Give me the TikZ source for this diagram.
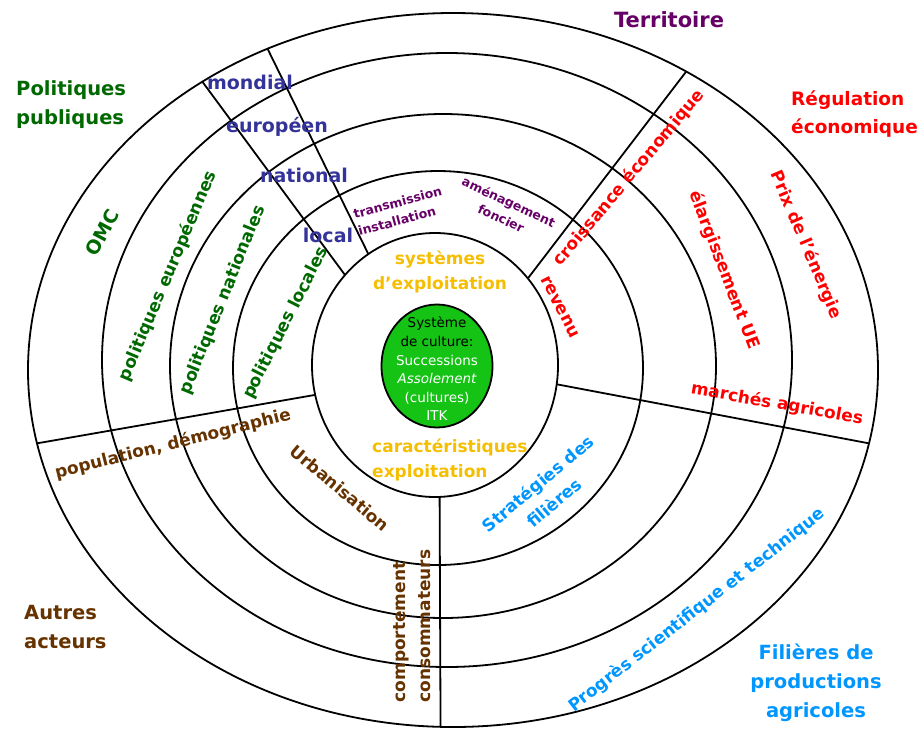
\documentclass[tikz,border=0pt]{standalone}
\usepackage{fontspec}
\setmainfont{DejaVu Sans}
\usepackage{tikz}
\usetikzlibrary{shapes.geometric}

\definecolor{terrpurple}{RGB}{102,0,102}
\definecolor{polgreen}{RGB}{0,104,0}
\definecolor{lvlblue}{RGB}{51,51,153}
\definecolor{ecored}{RGB}{255,0,0}
\definecolor{actbrown}{RGB}{102,51,0}
\definecolor{filblue}{RGB}{0,150,255}
\definecolor{expgold}{RGB}{245,190,0}
\definecolor{culgreen}{RGB}{20,195,20}

\begin{document}
\begin{tikzpicture}[x=1pt,y=-1pt,line width=1.8pt,
                    headlabel/.style={font=\bfseries\fontsize{19.5}{29}\selectfont},
                    levellabel/.style={font=\bfseries\fontsize{19}{23}\selectfont,text=lvlblue},
                    ringlabel/.style={font=\bfseries\fontsize{17}{25}\selectfont},
                    smalllabel/.style={font=\bfseries\fontsize{12.5}{18}\selectfont,text=terrpurple}]
  \tikzstyle{ring}=[ellipse,draw=black,inner sep=0pt,outer sep=0pt]
  \useasboundingbox (0,0) rectangle (920,729);

  \node[ring,minimum width=850pt,minimum height=714pt] (r5) at (453,370) {};
  \node[ring,minimum width=690pt,minimum height=614pt] (r4) at (447,360) {};
  \node[ring,minimum width=546pt,minimum height=504pt] (r3) at (443,366) {};
  \node[ring,minimum width=410pt,minimum height=394pt] (r2) at (438,368) {};
  \node[ring,minimum width=246pt,minimum height=264pt] (r1) at (435,365) {};
  \node[ring,fill=culgreen,minimum width=111pt,minimum height=123pt] (sc) at (437,366) {};

  % dividing lines
  \draw (r5.131) -- (r1.135);
  \draw (r5.120) -- (r1.121);
  \draw (r5.52)  -- (r1.43);
  \draw (r1.-9)  -- (r5.-10);
  \draw (r1.-88) -- (r5.-92);
  \draw (r5.190) -- (r1.194);

  \node[align=center,font=\fontsize{13.5}{18.6}\selectfont] (sctext) at (437,369)
    {Système\\de culture:\\\textcolor{white}{Successions}\\\textcolor{white}{\itshape Assolement}\\\textcolor{white}{(cultures)}\\\textcolor{white}{ITK}};

  \node[headlabel,text=terrpurple,font=\bfseries\fontsize{21}{29}\selectfont] (territoire) at (669,20) {Territoire};
  \node[headlabel,text=polgreen,align=left,anchor=west] (polpub) at (12,105) {Politiques\\publiques};
  \node[headlabel,text=ecored,align=left,anchor=west,font=\bfseries\fontsize{18.5}{28}\selectfont] (regeco) at (787,114) {Régulation\\économique};
  \node[headlabel,text=actbrown,align=left,anchor=west] (autres) at (20,627) {Autres\\acteurs};
  \node[headlabel,text=filblue,align=center] (filieres) at (816,683) {Filières de\\productions\\agricoles};

  \node[levellabel] (mondial) at (250,82) {mondial};
  \node[levellabel] (europeen) at (277,127) {européen};
  \node[levellabel] (national) at (304,175) {national};
  \node[levellabel] (local) at (328,235) {local};

  \node[ringlabel,text=polgreen,font=\bfseries\fontsize{19}{23}\selectfont,rotate=62] (omc) at (102,233) {OMC};
  \node[ringlabel,text=polgreen,rotate=67] (poleur) at (168,276) {politiques européennes};
  \node[ringlabel,text=polgreen,rotate=68] (polnat) at (223,300) {politiques nationales};
  \node[ringlabel,text=polgreen,rotate=63] (polloc) at (286,323) {politiques locales};

  \node[smalllabel,align=left,rotate=15] (transm) at (400,211) {transmission\\installation};
  \node[smalllabel,align=center,rotate=-25] (amenag) at (505,210) {aménagement\\foncier};

  \node[ringlabel,text=expgold,align=center] (sysexp) at (440,272) {systèmes\\d'exploitation};
  \node[ringlabel,text=expgold,align=left,anchor=west] (carexp) at (368,460) {caractéristiques\\exploitation};

  \node[ringlabel,text=ecored,rotate=50] (croiss) at (629,178) {croissance économique};
  \node[ringlabel,text=ecored,rotate=-63] (revenu) at (560,307) {revenu};
  \node[ringlabel,text=ecored,rotate=-69] (elarg) at (724,270) {élargissement UE};
  \node[ringlabel,text=ecored,rotate=-67] (prix) at (806,245) {Prix de l'énergie};
  \node[ringlabel,text=ecored,rotate=-10] (marches) at (777,404) {marchés agricoles};

  \node[ringlabel,text=actbrown,rotate=14] (popdem) at (173,444) {population, démographie};
  \node[ringlabel,text=actbrown,rotate=-40] (urban) at (340,488) {Urbanisation};
  \node[ringlabel,text=actbrown,align=left,rotate=90] (consom) at (412,626) {comportement\\consommateurs};

  \node[ringlabel,text=filblue,align=center,rotate=40] (strat) at (546,493) {Stratégies des\\filières};
  \node[ringlabel,text=filblue,rotate=38] (progres) at (697,610) {Progrès scientifique et technique};
\end{tikzpicture}
\end{document}
